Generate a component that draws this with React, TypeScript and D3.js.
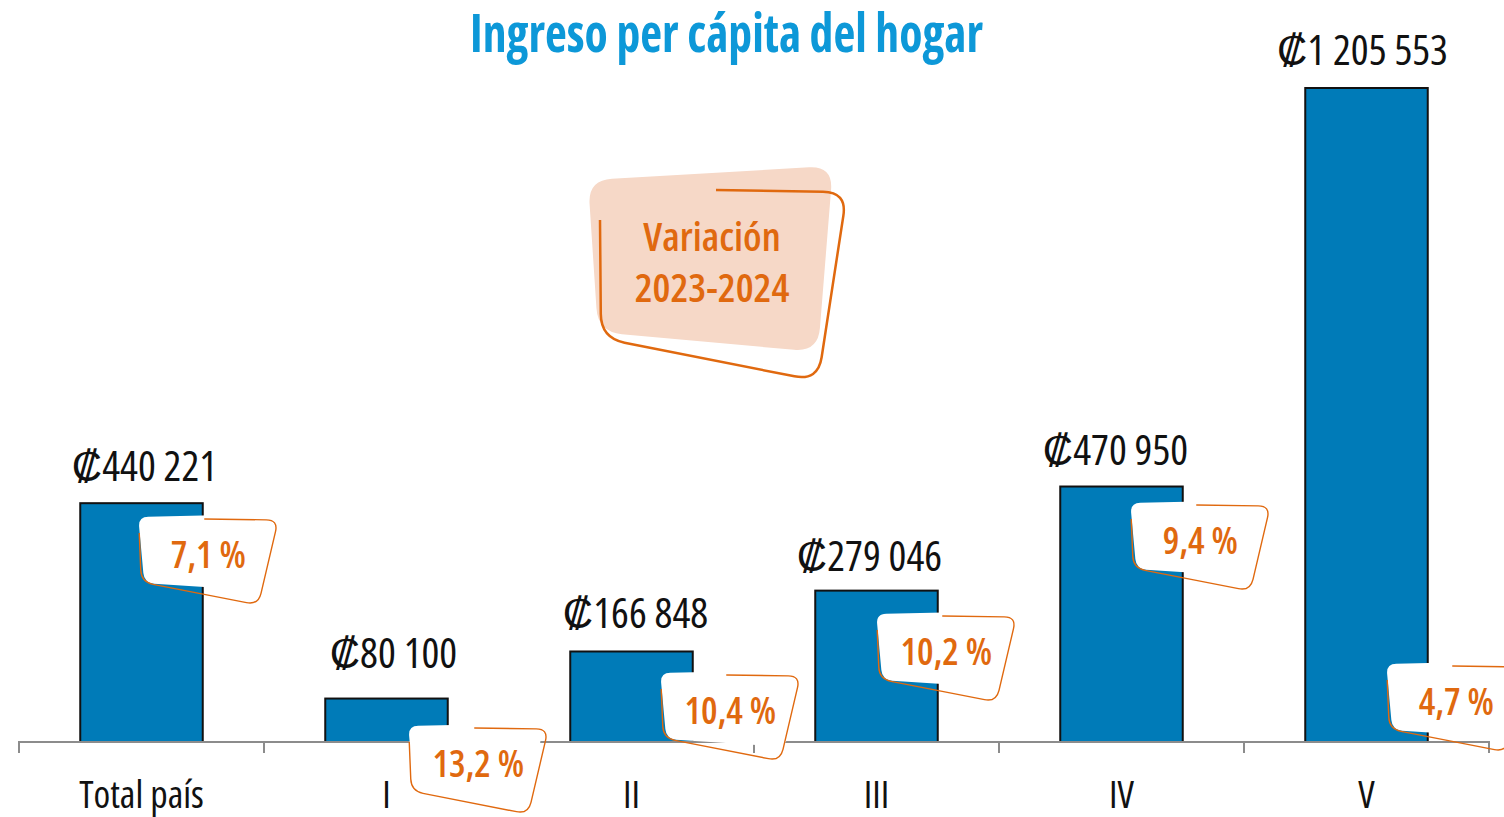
import React from "react";
import * as d3 from "d3";

const categories = ["Total país", "I", "II", "III", "IV", "V"];
const incomes = [440221, 80100, 166848, 279046, 470950, 1205553];
const variations = ["7,1 %", "13,2 %", "10,4 %", "10,2 %", "9,4 %", "4,7 %"];
// annotation anchors (dx from band start in px, y in px) for the variation badges
const badgeAnchors = [
  [128, 555],
  [153, 764],
  [160, 711],
  [131, 652],
  [140, 541],
  [151, 702],
];
// hand placement of value labels (dx, dy) relative to bar centre / top
const labelNudges = [
  [3, -22],
  [7, -31],
  [4, -23],
  [-7, -20],
  [-6, -22],
  [-4, -23],
];

const W = 1504;
const H = 817;
const FONT = "'Open Sans', 'Liberation Sans Narrow', sans-serif";
const BLUE = "#007bb8";
const ORANGE = "#e0690f";

function roundedPath(pts: number[][], r: number, closed: boolean, start?: number[], end?: number[]) {
  const p = d3.path();
  const corner = (prev: number[], v: number[], next: number[], first: boolean) => {
    const d1 = Math.hypot(prev[0] - v[0], prev[1] - v[1]);
    const d2 = Math.hypot(next[0] - v[0], next[1] - v[1]);
    const a = [v[0] + ((prev[0] - v[0]) * r) / d1, v[1] + ((prev[1] - v[1]) * r) / d1];
    const b = [v[0] + ((next[0] - v[0]) * r) / d2, v[1] + ((next[1] - v[1]) * r) / d2];
    if (first) p.moveTo(a[0], a[1]);
    else p.lineTo(a[0], a[1]);
    p.quadraticCurveTo(v[0], v[1], b[0], b[1]);
  };
  if (closed) {
    const n = pts.length;
    for (let i = 0; i < n; i++) {
      corner(pts[(i - 1 + n) % n], pts[i], pts[(i + 1) % n], i === 0);
    }
    p.closePath();
  } else {
    p.moveTo(start![0], start![1]);
    const all = [start!, ...pts, end!];
    for (let i = 1; i < all.length - 1; i++) corner(all[i - 1], all[i], all[i + 1], false);
    p.lineTo(end![0], end![1]);
  }
  return p.toString();
}

export default function App() {
  const x = d3.scaleBand<string>().domain(categories).range([19, 1489]).paddingInner(0.5).paddingOuter(0.25);
  const y = d3.scaleLinear().domain([0, 1205553]).range([742, 88]);
  const fmt = (v: number) => "₡" + d3.format(",")(v).replace(/,/g, " ");

  const whiteShape = roundedPath([[-70, -38], [64, -41], [56, 36], [-64, 28]], 10, true);
  const outlineShape = roundedPath(
    [[70, -35], [50, 50], [-67, 27]],
    12,
    false,
    [-4, -36],
    [-69, -22]
  );

  const bigFill = roundedPath([[588, 180], [833, 166], [818, 352], [598, 332]], 24, true);
  const bigOutline = roundedPath([[847, 192], [818, 381], [601, 338]], 24, false, [716, 190], [600, 220]);

  const ticks = [...categories.map((c) => x(c)! - x.step() * 0.25), 1489];

  return (
    <svg width={W} height={H} style={{ position: "absolute", left: 0, top: 0, background: "#fff" }} fontFamily={FONT}>
      <text
        x={470}
        y={52}
        fontSize={54}
        fontWeight={700}
        fill="#0d98d8"
        textLength={513}
        lengthAdjust="spacingAndGlyphs"
        style={{ fontStretch: "condensed" }}
      >
        Ingreso per cápita del hogar
      </text>

      {categories.map((c, i) => (
        <rect
          key={c}
          x={x(c)}
          y={y(incomes[i])}
          width={x.bandwidth()}
          height={y(0) - y(incomes[i])}
          fill={BLUE}
          stroke="#111"
          strokeWidth={2}
        />
      ))}

      <line x1={19} x2={1489} y1={742} y2={742} stroke="#8c8c8c" strokeWidth={2} />
      {ticks.map((t, i) => (
        <line key={i} x1={t} x2={t} y1={741} y2={753} stroke="#8c8c8c" strokeWidth={2} />
      ))}

      {categories.map((c, i) => (
        <text key={c} x={x(c)! + x.bandwidth() / 2} y={808} textAnchor="middle" fontSize={38} fill="#111" style={{ fontStretch: "condensed" }}>
          {c}
        </text>
      ))}

      {categories.map((c, i) => (
        <text
          key={c}
          x={x(c)! + x.bandwidth() / 2 + labelNudges[i][0]}
          y={y(incomes[i]) + labelNudges[i][1]}
          textAnchor="middle"
          fontSize={42}
          fill="#111"
          style={{ fontStretch: "condensed" }}
        >
          {fmt(incomes[i])}
        </text>
      ))}

      <path d={bigFill} fill="#f6d8c7" />
      <path d={bigOutline} fill="none" stroke={ORANGE} strokeWidth={2.5} />
      <text x={712} y={251} textAnchor="middle" fontSize={40} fontWeight={600} fill={ORANGE} style={{ fontStretch: "condensed" }}>
        Variación
      </text>
      <text x={712} y={302} textAnchor="middle" fontSize={40} fontWeight={600} fill={ORANGE} style={{ fontStretch: "condensed" }}>
        2023-2024
      </text>

      {categories.map((c, i) => {
        const cx = x(c)! + badgeAnchors[i][0];
        const cy = badgeAnchors[i][1];
        return (
          <g key={c} transform={`translate(${cx},${cy})`}>
            <path d={whiteShape} fill="#fff" />
            <path d={outlineShape} fill="none" stroke={ORANGE} strokeWidth={1.4} />
            <text x={0} y={13} textAnchor="middle" fontSize={37} fontWeight={600} fill={ORANGE} style={{ fontStretch: "condensed" }}>
              {variations[i]}
            </text>
          </g>
        );
      })}
    </svg>
  );
}
